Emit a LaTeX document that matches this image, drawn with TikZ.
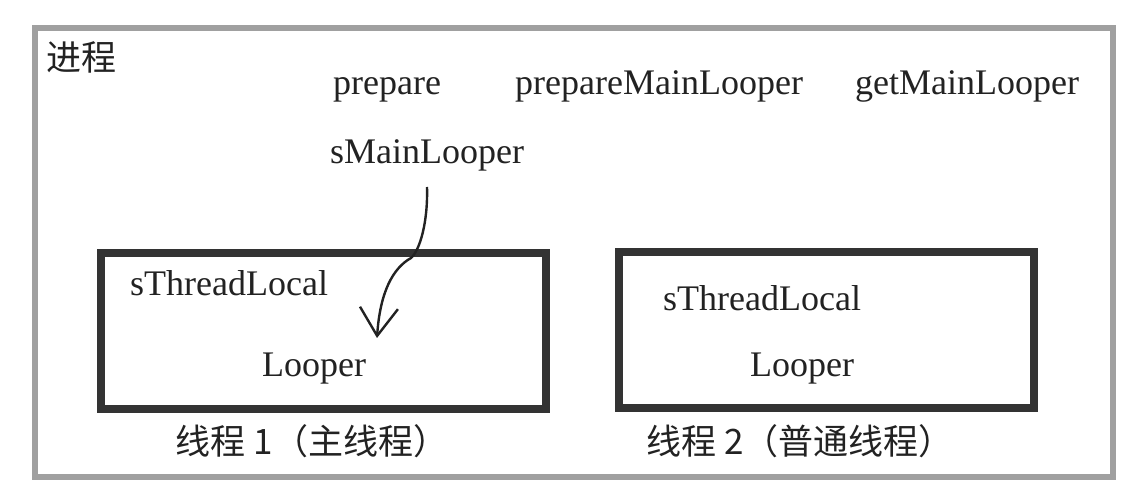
\documentclass[tikz,border=0pt]{standalone}
\usepackage{fontspec}
\setmainfont{Liberation Serif}
\newfontfamily\cjk{Noto Sans CJK SC}
\usetikzlibrary{arrows.meta}
\definecolor{ink}{HTML}{222222}
\definecolor{outergray}{HTML}{A0A0A0}
\definecolor{boxdark}{HTML}{333333}
\begin{document}
\begin{tikzpicture}[x=1pt,y=-1pt,
  lbl/.style={font=\fontsize{36}{40}\selectfont, text=ink, inner sep=0pt, anchor=base west},
  cjklbl/.style={font=\cjk\fontsize{35}{38}\selectfont, text=ink, inner sep=0pt},
  outerbox/.style={draw=outergray, line width=6.5pt, inner sep=0pt},
  threadbox/.style={draw=boxdark, line width=8pt, inner sep=0pt},
  flow/.style={draw=ink, line width=2.4pt, -{Straight Barb[length=28pt,width=38pt,line width=2.4pt]}}]
\useasboundingbox[fill=white] (0,0) rectangle (1143,502);
\node[outerbox, minimum width=1078pt, minimum height=449pt] (proc) at (574,252.5) {};
\node[threadbox, minimum width=445pt, minimum height=156pt] (t1) at (323.5,331) {};
\node[threadbox, minimum width=415pt, minimum height=156pt] (t2) at (826.5,330) {};
\node[cjklbl, anchor=west] (proclbl) at (46,57) {进程};
\node[lbl] (prep) at (333,95) {prepare};
\node[lbl] (prepml) at (515,95) {prepareMainLooper};
\node[lbl] (getml) at (855,95) {getMainLooper};
\node[lbl] (sml) at (330,164) {sMainLooper};
\node[lbl] (tl1) at (130,296) {sThreadLocal};
\node[lbl] (lp1) at (262,377) {Looper};
\node[lbl] (tl2) at (663,311) {sThreadLocal};
\node[lbl] (lp2) at (750,377) {Looper};
\node[cjklbl] (t1lbl) at (312,441) {线程 1（主线程）};
\node[cjklbl] (t2lbl) at (800,441) {线程 2（普通线程）};
\coordinate (arrstart) at (427,187);
\coordinate (arrtip) at (377,338);
\draw[flow] (arrstart) .. controls (428,222) and (420,250) .. (411,258)
  .. controls (393,268) and (380,292) .. (arrtip);
\end{tikzpicture}
\end{document}
